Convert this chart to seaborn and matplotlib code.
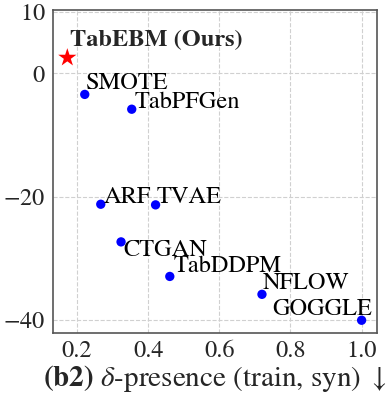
import matplotlib
matplotlib.use("Agg")
import matplotlib.pyplot as plt
import seaborn as sns
import pandas as pd

# ---- data ----
methods = ["SMOTE", "TabPFGen", "ARF", "TVAE", "CTGAN", "TabDDPM", "NFLOW", "GOGGLE"]
delta_presence = [0.222, 0.354, 0.267, 0.421, 0.324, 0.461, 0.720, 1.0]
score = [-3.4, -5.8, -21.2, -21.3, -27.3, -32.9, -35.8, -40.0]
ours_name = "TabEBM (Ours)"
ours_x = [0.173]
ours_y = [2.55]
xticks = [0.2, 0.4, 0.6, 0.8, 1.0]
xticklabels = ["0.2", "0.4", "0.6", "0.8", "1.0"]
yticks = [10, 0, -20, -40]
yticklabels = ["$10$", "$0$", "$-20$", "$-40$"]

# label offsets in pixels (layout only)
label_offsets = {
    "SMOTE": (1, 5), "TabPFGen": (3, 1), "ARF": (3, 1), "TVAE": (1, 2),
    "CTGAN": (2, -14), "TabDDPM": (4, 4), "NFLOW": (1, 5), "GOGGLE": (-89, 5),
}

sns.set_style("white")
plt.rcParams["font.family"] = ["STIXGeneral", "DejaVu Sans"]
plt.rcParams["mathtext.fontset"] = "stix"

fig = plt.figure(figsize=(3.89, 3.95), dpi=100)
ax = fig.add_axes([0.136, 0.158, 0.832, 0.817])

df = pd.DataFrame({"x": delta_presence, "y": score, "method": methods})
sns.scatterplot(data=df, x="x", y="y", color="blue", s=45, edgecolor="none", ax=ax, zorder=3)
sns.scatterplot(x=ours_x, y=ours_y, color="red", marker="*", s=190, edgecolor="none", ax=ax, zorder=3)

for m, x, y in zip(methods, delta_presence, score):
    dx, dy = label_offsets[m]
    ax.annotate(m, (x, y), xytext=(dx, dy), textcoords="offset pixels",
                ha="left", va="baseline", fontsize=17.6, color="black", zorder=4)
ax.annotate(ours_name, (ours_x[0], ours_y[0]), xytext=(3, 12), textcoords="offset pixels",
            ha="left", va="baseline", fontsize=17.6, fontweight="bold", zorder=4)

ax.set_xlim(0.1325, 1.042)
ax.set_ylim(-42, 10.3)
ax.set_xticks(xticks)
ax.set_yticks(yticks)
ax.set_xticklabels(xticklabels)
ax.set_yticklabels(yticklabels)
ax.tick_params(axis="both", labelsize=17.5, length=3.5, width=1, color="#555555", direction="out", pad=2)
ax.grid(True, linestyle="--", color="#d0d0d0", linewidth=0.8)
ax.set_axisbelow(True)
for sp in ax.spines.values():
    sp.set_color("#555555")
    sp.set_linewidth(1.2)
ax.set_xlabel(r"$\mathbf{(b2)}$ $\delta$-presence (train, syn) $\downarrow$", fontsize=21, labelpad=1)
ax.set_ylabel("")

fig.savefig("out.png", dpi=100)
